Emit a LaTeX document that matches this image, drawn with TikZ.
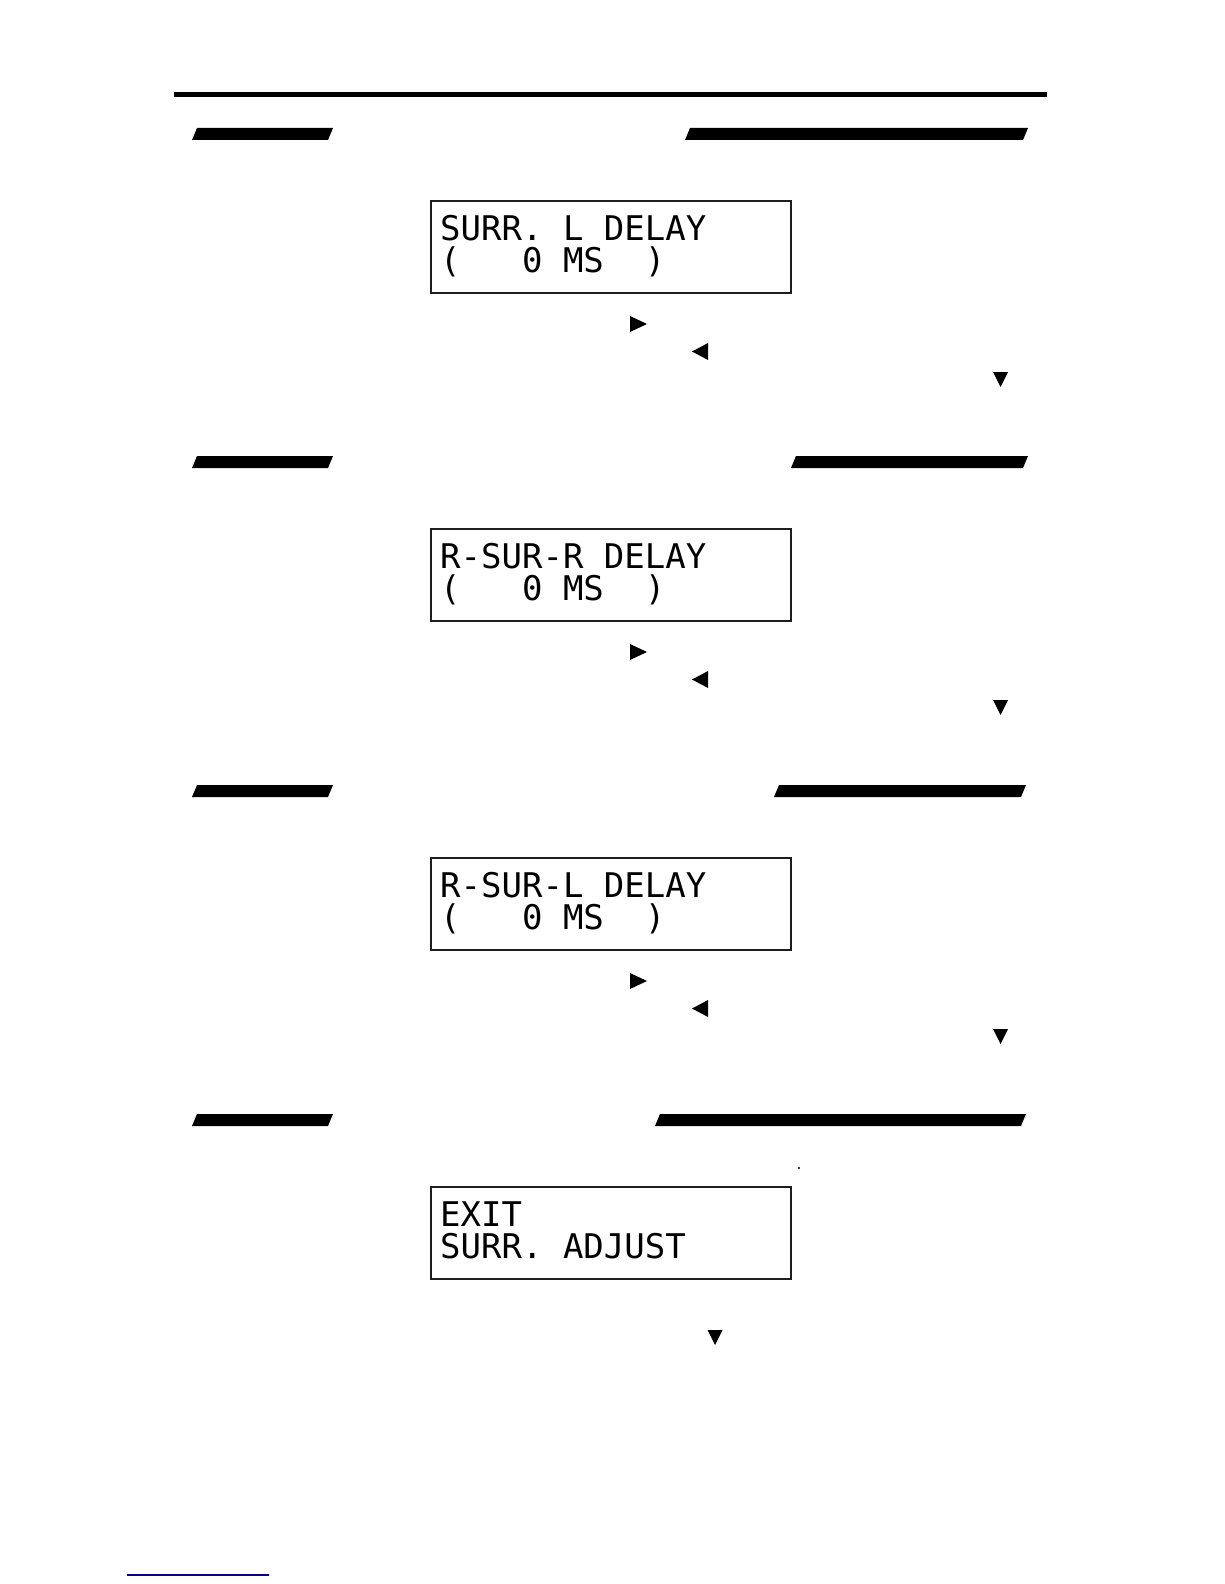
\documentclass[tikz,border=0pt]{standalone}
\usepackage{fontspec}
\newfontfamily\lcdfont{DejaVu Sans Mono}
\definecolor{lcdFrame}{RGB}{30,30,30}
\definecolor{linkBlue}{RGB}{0,0,140}
\frenchspacing

\begin{document}
\begin{tikzpicture}[x=1pt, y=-1pt,
      lcd/.style={draw=lcdFrame, line width=1.8pt, minimum width=360pt, minimum height=92pt, anchor=north west, inner sep=0},
      lcdtext/.style={anchor=base west, inner sep=0, font=\lcdfont\fontsize{34}{40}\selectfont},
      headbar/.style={fill=black},
      keymark/.style={fill=black}
    ]
      \useasboundingbox (0,0) rectangle (1224,1584);
      \fill (174,92.5) rectangle (1047,97);
      % section 1
      \fill[headbar] (192,140) -- (197,128) -- (333,128) -- (328,140) -- cycle;
      \fill[headbar] (685,140) -- (690,128) -- (1028,128) -- (1023,140) -- cycle;
      \node[lcd] (box1) at (430,200) {};
      \node[lcdtext] (box1a) at (440,240.5) {SURR. L DELAY};
      \node[lcdtext] (box1b) at (440,272) {(\ \ \ 0 MS\ \ )};
      \fill[keymark] (630,316) -- (647,324) -- (630,332) -- cycle;
      \fill[keymark] (708,343) -- (692,351.5) -- (708,360) -- cycle;
      \fill[keymark] (993,372) -- (1008,372) -- (1000.5,387) -- cycle;
      % section 2
      \begin{scope}[yshift=-328pt]
        \fill[headbar] (192,140) -- (197,128) -- (333,128) -- (328,140) -- cycle;
        \fill[headbar] (791,140) -- (796,128) -- (1028,128) -- (1023,140) -- cycle;
        \node[lcd] (box2) at (430,200) {};
        \node[lcdtext] (box2a) at (440,240.5) {R-SUR-R DELAY};
        \node[lcdtext] (box2b) at (440,272) {(\ \ \ 0 MS\ \ )};
        \fill[keymark] (630,316) -- (647,324) -- (630,332) -- cycle;
        \fill[keymark] (708,343) -- (692,351.5) -- (708,360) -- cycle;
        \fill[keymark] (993,372) -- (1008,372) -- (1000.5,387) -- cycle;
      \end{scope}
      % section 3
      \begin{scope}[yshift=-657pt]
        \fill[headbar] (192,140) -- (197,128) -- (333,128) -- (328,140) -- cycle;
        \fill[headbar] (774,140) -- (779,128) -- (1026,128) -- (1021,140) -- cycle;
        \node[lcd] (box3) at (430,200) {};
        \node[lcdtext] (box3a) at (440,240.5) {R-SUR-L DELAY};
        \node[lcdtext] (box3b) at (440,272) {(\ \ \ 0 MS\ \ )};
        \fill[keymark] (630,316) -- (647,324) -- (630,332) -- cycle;
        \fill[keymark] (708,343) -- (692,351.5) -- (708,360) -- cycle;
        \fill[keymark] (993,372) -- (1008,372) -- (1000.5,387) -- cycle;
      \end{scope}
      % section 4
      \begin{scope}[yshift=-986pt]
        \fill[headbar] (192,140) -- (197,128) -- (333,128) -- (328,140) -- cycle;
        \fill[headbar] (655,140) -- (660,128) -- (1026,128) -- (1021,140) -- cycle;
        \fill (799,182) circle (1.2);
        \node[lcd] (box4) at (430,200) {};
        \node[lcdtext] (box4a) at (440,240.5) {EXIT};
        \node[lcdtext] (box4b) at (440,272) {SURR. ADJUST};
        \fill[keymark] (707.5,344) -- (722.5,344) -- (715,359) -- cycle;
      \end{scope}
      \draw[linkBlue, line width=1.8pt] (127,1575) -- (269,1575);
    \end{tikzpicture}
\end{document}
